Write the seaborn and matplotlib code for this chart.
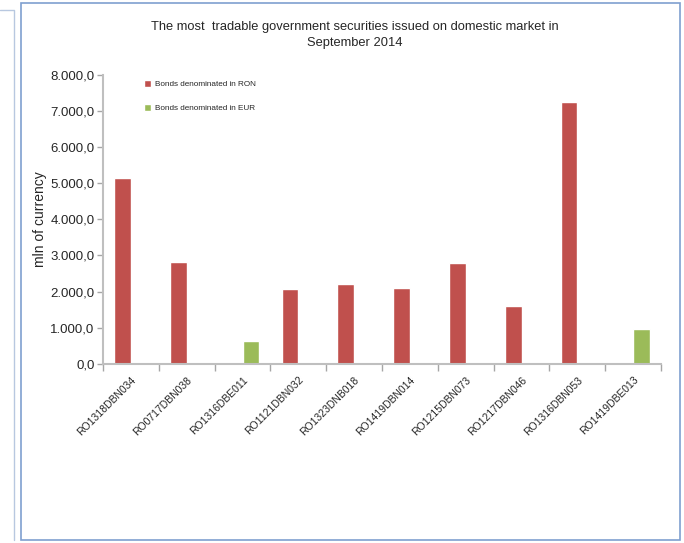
import pandas as pd
import matplotlib.pyplot as plt
import seaborn as sns
from matplotlib.ticker import FuncFormatter, FixedLocator
from matplotlib.lines import Line2D
from matplotlib.patches import Rectangle

# data
securities = ["RO1318DBN034", "RO0717DBN038", "RO1316DBE011", "RO1121DBN032",
              "RO1323DNB018", "RO1419DBN014", "RO1215DBN073", "RO1217DBN046",
              "RO1316DBN053", "RO1419DBE013"]
currency = ["RON", "RON", "EUR", "RON", "RON", "RON", "RON", "RON", "RON", "EUR"]
volumes = [5150, 2820, 630, 2070, 2210, 2100, 2780, 1600, 7250, 960]
series_names = {"RON": "Bonds denominated in RON", "EUR": "Bonds denominated in EUR"}
series_colors = {"Bonds denominated in RON": "#C0504D", "Bonds denominated in EUR": "#9BBB59"}

df = pd.DataFrame({
    "security": securities,
    "series": [series_names[c] for c in currency],
    "volume": volumes,
})

sns.set_theme(style="white")
plt.rcParams["font.family"] = ["Liberation Sans", "DejaVu Sans"]

fig = plt.figure(figsize=(6.84, 5.43), dpi=100)
ax = fig.add_axes([0.1506, 0.3302, 0.8158, 0.5317])

sns.barplot(data=df, x="security", y="volume", hue="series",
            hue_order=list(series_colors.keys()), palette=series_colors,
            order=securities, width=0.6, dodge=True, saturation=1, ax=ax)

ax.set_ylim(0, 8000)
ax.set_xlim(-0.5, len(securities) - 0.5)
ax.yaxis.set_major_locator(FixedLocator(range(0, 8001, 1000)))
ax.yaxis.set_major_formatter(FuncFormatter(
    lambda v, p: f"{v:,.1f}".replace(",", "X").replace(".", ",").replace("X", ".")))
ax.xaxis.set_minor_locator(FixedLocator([i - 0.5 for i in range(len(securities) + 1)]))

ax.tick_params(axis="y", which="major", length=4, width=1, color="#a6a6a6",
               direction="out", left=True, labelsize=9.5, pad=2)
ax.tick_params(axis="x", which="major", length=0, labelsize=7.5, pad=8)
ax.tick_params(axis="x", which="minor", length=5, width=1, color="#a6a6a6",
               direction="out", bottom=True)
for lbl in ax.get_xticklabels():
    lbl.set_rotation(45)
    lbl.set_ha("right")
    lbl.set_rotation_mode("anchor")

for s in ["top", "right"]:
    ax.spines[s].set_visible(False)
for s in ["left", "bottom"]:
    ax.spines[s].set_color("#bfbfbf")
    ax.spines[s].set_linewidth(1.5)

ax.set_xlabel("")
ax.set_ylabel("mln of currency", fontsize=10)
ax.yaxis.set_label_coords(-0.101, 0.5)

leg = ax.legend(loc="upper left", bbox_to_anchor=(0.06, 1.008), frameon=False,
                fontsize=5.9, handlelength=0.85, handleheight=0.9,
                labelspacing=1.9, handletextpad=0.45)

fig.text(0.519, 0.935, "The most  tradable government securities issued on domestic market in\nSeptember 2014",
         ha="center", va="center", fontsize=9.3, linespacing=1.4)

# outer frames
fig.patches.append(Rectangle((21 / 684, 3 / 543), 659 / 684, 537 / 543,
                             transform=fig.transFigure, fill=False,
                             edgecolor="#7f9fcf", linewidth=1.2))
fig.lines.append(Line2D([0, 14 / 684, 14 / 684], [1 - 10 / 543, 1 - 10 / 543, 1 - 540 / 543],
                        transform=fig.transFigure, color="#b8c8e0", linewidth=1))

fig.savefig("out.png", dpi=100)
